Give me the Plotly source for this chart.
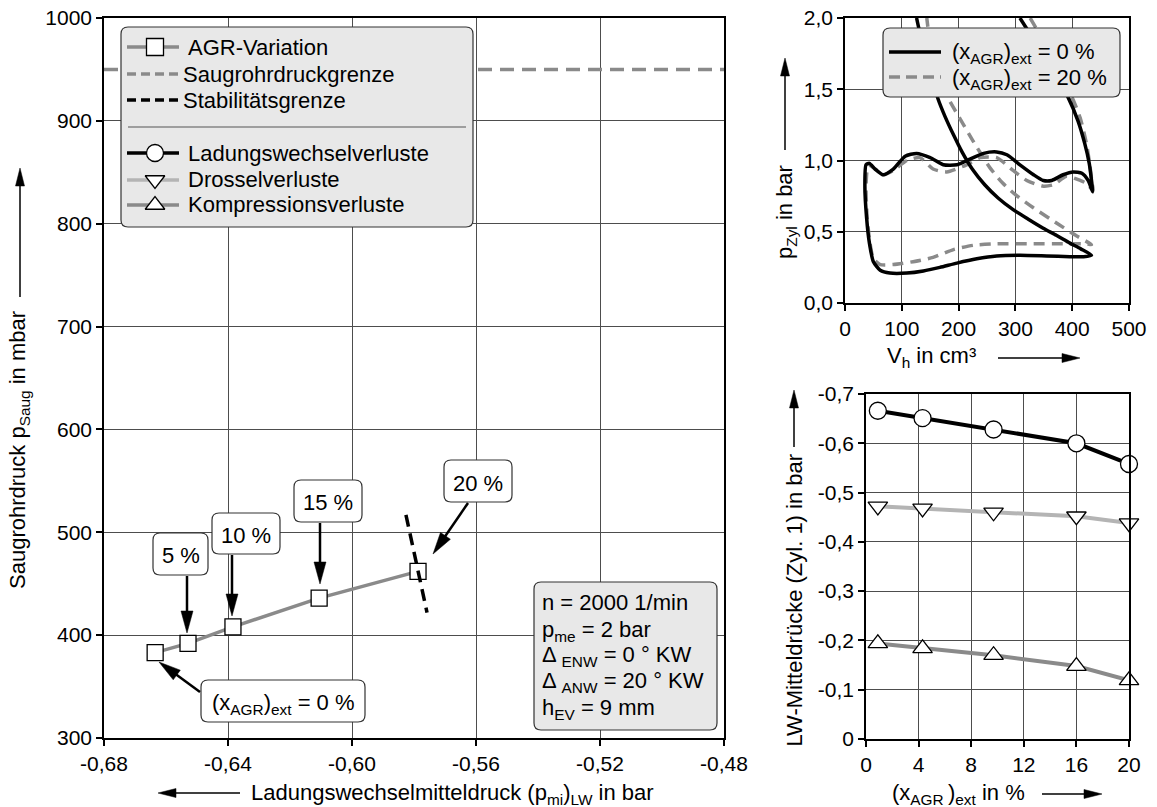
import math
import plotly.graph_objects as go

FONT = "Liberation Sans, Arial, Helvetica, sans-serif"
W, H = 1157, 807

# ---------------- data ----------------
# main chart: EGR variation
agr_rate = [0, 5, 10, 15, 20]                      # (x_AGR)ext in %
agr_pmi = [-0.6635, -0.6529, -0.6384, -0.6106, -0.5787]   # (p_mi)_LW in bar
agr_psaug = [383, 392, 408, 436, 462]              # p_Saug in mbar
saug_limit = 950                                   # intake pressure limit, mbar
stab_pmi = [-0.5826, -0.5758]                      # stability limit
stab_psaug = [517, 422]

main_xticks = [-0.68, -0.64, -0.60, -0.56, -0.52, -0.48]
main_xlabels = ["-0,68", "-0,64", "-0,60", "-0,56", "-0,52", "-0,48"]
main_yticks = [300, 400, 500, 600, 700, 800, 900, 1000]
main_ylabels = ["300", "400", "500", "600", "700", "800", "900", "1000"]

# p-V diagram, (x_AGR)ext = 0 %
pv0_v = [308, 340, 368, 392, 410, 422, 430, 434, 436,
         428, 417, 402, 384, 364, 349, 332, 308, 285, 267, 244, 220, 197, 173,
         150, 126, 106, 85, 67, 53, 43, 37,
         35, 38, 43, 50, 62, 79, 109, 138, 167, 197, 232, 267, 308, 355, 396,
         420, 434,
         415, 396, 372, 349, 322, 296, 270, 246, 224, 206, 191, 176, 164, 147,
         136, 126]
pv0_p = [2.0, 1.8, 1.62, 1.45, 1.28, 1.12, 0.98, 0.86, 0.78,
         0.86, 0.91, 0.92, 0.90, 0.86, 0.86, 0.90, 0.97, 1.04, 1.06, 1.05, 1.01,
         0.97, 0.97, 1.02, 1.05, 1.03, 0.94, 0.90, 0.94, 0.98, 0.97,
         0.82, 0.60, 0.42, 0.29, 0.23, 0.21, 0.21, 0.225, 0.25, 0.28, 0.31,
         0.33, 0.335, 0.33, 0.325, 0.325, 0.335,
         0.38, 0.42, 0.475, 0.525, 0.59, 0.655, 0.735, 0.83, 0.94, 1.06, 1.18, 1.31,
         1.43, 1.66, 1.82, 2.0]

# p-V diagram, (x_AGR)ext = 20 %
pv20_v = [326, 355, 378, 398, 414, 425, 431, 435, 437,
          425, 414, 390, 367, 349, 320, 296, 267, 238, 214, 179, 155, 132, 109,
          85, 67, 53, 41,
          37, 39, 44, 50, 62, 85, 120, 155, 191, 226, 267, 326, 384, 425, 434,
          408, 373, 331, 300, 278, 255, 225, 200, 180, 160, 150, 144]
pv20_p = [2.0, 1.8, 1.62, 1.46, 1.30, 1.12, 0.97, 0.84, 0.79,
          0.84, 0.86, 0.89, 0.83, 0.82, 0.86, 0.93, 1.02, 1.02, 0.97, 0.92, 0.94,
          1.02, 1.00, 0.93, 0.90, 0.94, 0.97,
          0.82, 0.60, 0.42, 0.31, 0.27, 0.27, 0.29, 0.32, 0.375, 0.405, 0.415,
          0.415, 0.415, 0.415, 0.41,
          0.47, 0.56, 0.67, 0.76, 0.84, 0.95, 1.14, 1.31, 1.45, 1.66, 1.82, 2.0]

pv_xticks = [0, 100, 200, 300, 400, 500]
pv_xlabels = ["0", "100", "200", "300", "400", "500"]
pv_yticks = [0, 0.5, 1.0, 1.5, 2.0]
pv_ylabels = ["0,0", "0,5", "1,0", "1,5", "2,0"]

# gas exchange mean pressures (cylinder 1)
egr_pct = [0.9, 4.3, 9.7, 16.0, 20.0]
lw_total = [-0.666, -0.651, -0.628, -0.600, -0.558]
lw_throttle = [-0.472, -0.468, -0.460, -0.452, -0.438]
lw_compression = [-0.194, -0.184, -0.170, -0.148, -0.119]

mp_xticks = [0, 4, 8, 12, 16, 20]
mp_xlabels = ["0", "4", "8", "12", "16", "20"]
mp_yticks = [0, -0.1, -0.2, -0.3, -0.4, -0.5, -0.6, -0.7]
mp_ylabels = ["0", "-0,1", "-0,2", "-0,3", "-0,4", "-0,5", "-0,6", "-0,7"]

# ---------------- styles ----------------
GRAY = "#8a8a8a"
LIGHT = "#b4b4b4"
BOXFILL = "#e8e8e8"
TXT = 22
TICK = 21


def dom_x(p0, p1):
    return [p0 / W, p1 / W]


def dom_y(top, bottom):
    return [1 - bottom / H, 1 - top / H]


def axis(**kw):
    base = dict(showline=True, linecolor="black", linewidth=1.5, mirror=True,
                ticks="outside", ticklen=6, tickwidth=1.5, tickcolor="black",
                showgrid=True, gridcolor="#4d4d4d", gridwidth=1, zeroline=False,
                tickfont=dict(size=TICK, family=FONT, color="black"),
                fixedrange=True, tickmode="array", automargin=False)
    base.update(kw)
    return base


fig = go.Figure()

# ---- main chart (x / y) ----
fig.add_trace(go.Scatter(x=[main_xticks[0], main_xticks[-1]], y=[saug_limit, saug_limit],
                         mode="lines", line=dict(color=GRAY, width=3.5, dash="14px,8px"),
                         xaxis="x", yaxis="y"))
fig.add_trace(go.Scatter(x=agr_pmi, y=agr_psaug, mode="lines+markers",
                         line=dict(color=GRAY, width=3.5),
                         marker=dict(symbol="square", size=16, color="white",
                                     line=dict(color="black", width=1.3)),
                         cliponaxis=False, xaxis="x", yaxis="y"))
fig.add_trace(go.Scatter(x=stab_pmi, y=stab_psaug, mode="lines",
                         line=dict(color="black", width=3.5, dash="12px,7px"),
                         xaxis="x", yaxis="y"))

# ---- p-V diagram (x2 / y2) ----
fig.add_trace(go.Scatter(x=pv20_v, y=pv20_p, mode="lines",
                         line=dict(color=GRAY, width=3.5, dash="11px,7px", shape="spline", smoothing=0.6),
                         xaxis="x2", yaxis="y2"))
fig.add_trace(go.Scatter(x=pv0_v, y=pv0_p, mode="lines",
                         line=dict(color="black", width=3.5, shape="spline", smoothing=0.6),
                         xaxis="x2", yaxis="y2"))

# ---- mean pressures (x3 / y3) ----
for vals, col, sym in [(lw_total, "black", "circle"),
                       (lw_throttle, LIGHT, "triangle-down"),
                       (lw_compression, GRAY, "triangle-up")]:
    fig.add_trace(go.Scatter(x=egr_pct, y=vals, mode="lines+markers",
                             line=dict(color=col, width=4),
                             marker=dict(symbol=sym, size=17, color="white",
                                         line=dict(color="black", width=1.3)),
                             cliponaxis=False, xaxis="x3", yaxis="y3"))

# ---- legend glyphs on a pixel-coordinate overlay (x4 / y4) ----
leg_rows = [  # (y, colour, dash, marker)
    (47, GRAY, "solid", "square"),
    (74, GRAY, "9px,5px", None),
    (100, "black", "9px,5px", None),
    (153, "black", "solid", "circle"),
    (180, LIGHT, "solid", "triangle-down"),
    (205, GRAY, "solid", "triangle-up"),
]
for yy, col, dash, sym in leg_rows:
    fig.add_trace(go.Scatter(x=[127, 179], y=[yy, yy], mode="lines",
                             line=dict(color=col, width=3.5, dash=dash),
                             xaxis="x4", yaxis="y4"))
    if sym:
        fig.add_trace(go.Scatter(x=[155], y=[yy], mode="markers",
                                 marker=dict(symbol=sym, size=17, color="white",
                                             line=dict(color="black", width=1.3)),
                                 xaxis="x4", yaxis="y4"))
fig.add_trace(go.Scatter(x=[889, 941], y=[52, 52], mode="lines",
                         line=dict(color="black", width=3.5), xaxis="x4", yaxis="y4"))
fig.add_trace(go.Scatter(x=[889, 941], y=[77, 77], mode="lines",
                         line=dict(color=GRAY, width=3.5, dash="11px,6px"), xaxis="x4", yaxis="y4"))

shapes = []
annotations = []


def rbox(x0, y0, x1, y1, fill, r=7):
    path = (f"M{x0+r},{y0} L{x1-r},{y0} Q{x1},{y0} {x1},{y0+r} L{x1},{y1-r} "
            f"Q{x1},{y1} {x1-r},{y1} L{x0+r},{y1} Q{x0},{y1} {x0},{y1-r} "
            f"L{x0},{y0+r} Q{x0},{y0} {x0+r},{y0} Z")
    shapes.append(dict(type="path", path=path, xref="x4", yref="y4", layer="below",
                       fillcolor=fill, line=dict(color="#333333", width=1.2)))


def arrow(x0, y0, x1, y1, w=1.5, hl=18, hw=9):
    dx, dy = x1 - x0, y1 - y0
    L = math.hypot(dx, dy)
    ux, uy = dx / L, dy / L
    bx, by = x1 - ux * hl, y1 - uy * hl
    nx, ny = -uy, ux
    shapes.append(dict(type="line", x0=x0, y0=y0, x1=bx + ux * 2, y1=by + uy * 2,
                       xref="x4", yref="y4", layer="above",
                       line=dict(color="black", width=w)))
    path = (f"M{x1},{y1} L{bx + nx * hw / 2},{by + ny * hw / 2} "
            f"L{bx - nx * hw / 2},{by - ny * hw / 2} Z")
    shapes.append(dict(type="path", path=path, xref="x4", yref="y4", layer="above",
                       fillcolor="black", line=dict(color="black", width=0.5)))


def text(x, baseline, s, size=TXT, xanchor="left"):
    annotations.append(dict(x=x, y=baseline - 0.905 * size, text=s, xref="x4", yref="y4",
                            xanchor=xanchor, yanchor="top", showarrow=False,
                            borderpad=0, borderwidth=0,
                            font=dict(size=size, family=FONT, color="black")))


def vtext(x_left, y_mid, s, size=TXT):
    annotations.append(dict(x=x_left, y=y_mid, text=s, xref="x4", yref="y4",
                            xanchor="left", yanchor="middle", textangle=-90,
                            showarrow=False, borderpad=0, borderwidth=0,
                            font=dict(size=size, family=FONT, color="black")))


# main legend box
rbox(121, 27, 473, 227, BOXFILL)
shapes.append(dict(type="line", x0=128, x1=466, y0=127, y1=127, xref="x4", yref="y4",
                   layer="above", line=dict(color="#555555", width=1.2)))
text(188, 55, "AGR-Variation")
text(183, 82, "Saugrohrdruckgrenze")
text(183, 108, "Stabilitätsgrenze")
text(188, 161, "Ladungswechselverluste")
text(188, 187, "Drosselverluste")
text(188, 212, "Kompressionsverluste")

# operating point box
rbox(534, 582, 717, 730, BOXFILL)
text(542, 610, "n = 2000 1/min")
text(542, 637, "p<sub>me</sub> = 2 bar")
text(542, 662, "Δ <sub>ENW</sub> = 0 ° KW")
text(542, 688, "Δ <sub>ANW</sub> = 20 ° KW")
text(542, 715, "h<sub>EV</sub> = 9 mm")

# EGR rate callouts
rbox(153, 533, 208, 575, "white")
text(180.5, 563, "5 %", xanchor="center")
arrow(187, 576, 187, 633, w=2.5, hl=22, hw=12)

rbox(212, 513, 280, 554, "white")
text(246, 543, "10 %", xanchor="center")
arrow(232, 555, 232, 616, w=2.5, hl=22, hw=12)

rbox(294, 480, 362, 522, "white")
text(328, 510, "15 %", xanchor="center")
arrow(320, 523, 320, 584, w=2.5, hl=22, hw=12)

rbox(444, 460, 512, 502, "white")
text(478, 491, "20 %", xanchor="center")
arrow(468, 503, 433, 554, w=2.5, hl=22, hw=12)

rbox(201, 680, 365, 722, "white")
text(283, 710, "(x<sub>AGR</sub>)<sub>ext</sub> = 0 %", xanchor="center")
arrow(200, 692, 159, 662, w=2.5, hl=22, hw=12)

# p-V legend
rbox(883, 28, 1120, 97, BOXFILL)
text(952, 59, "(x<sub>AGR</sub>)<sub>ext</sub> = 0 %")
text(952, 85, "(x<sub>AGR</sub>)<sub>ext</sub> = 20 %")

# axis titles with direction arrows
text(251, 800, "Ladungswechselmitteldruck (p<sub>mi</sub>)<sub>LW</sub> in bar")
arrow(240, 793, 158, 793)
vtext(5, 450, "Saugrohrdruck p<sub>Saug</sub> in mbar")
arrow(20, 297, 20, 168)

text(887, 363, "V<sub>h</sub> in cm³")
arrow(998, 358, 1080, 358)
vtext(772, 212, "p<sub>Zyl</sub> in bar")
arrow(785, 150, 785, 58)

text(892, 800, "(x<sub>AGR </sub>)<sub>ext</sub> in %")
arrow(1042, 794, 1102, 794)
vtext(781, 600, "LW-Mitteldrücke (Zyl. 1) in bar")
arrow(794, 447, 794, 390)

fig.update_layout(
    template="none",
    width=W, height=H,
    margin=dict(l=0, r=0, t=0, b=0, pad=0, autoexpand=False),
    paper_bgcolor="white", plot_bgcolor="rgba(0,0,0,0)",
    showlegend=False,
    font=dict(family=FONT, size=TXT, color="black"),
    xaxis=axis(domain=dom_x(104, 724), range=[-0.68, -0.48], anchor="y",
               tickvals=main_xticks, ticktext=main_xlabels),
    yaxis=axis(domain=dom_y(18, 738), range=[300, 1000], anchor="x",
               tickvals=main_yticks, ticktext=main_ylabels),
    xaxis2=axis(domain=dom_x(845, 1129), range=[0, 500], anchor="y2",
                tickvals=pv_xticks, ticktext=pv_xlabels),
    yaxis2=axis(domain=dom_y(18, 303), range=[0, 2.0], anchor="x2",
                tickvals=pv_yticks, ticktext=pv_ylabels),
    xaxis3=axis(domain=dom_x(866, 1129), range=[0, 20], anchor="y3",
                tickvals=mp_xticks, ticktext=mp_xlabels),
    yaxis3=axis(domain=dom_y(394, 739), range=[0, -0.7], anchor="x3",
                tickvals=mp_yticks, ticktext=mp_ylabels),
    xaxis4=dict(domain=[0, 1], range=[0, W], visible=False, fixedrange=True,
                anchor="y4", automargin=False),
    yaxis4=dict(domain=[0, 1], range=[H, 0], visible=False, fixedrange=True,
                anchor="x4", automargin=False),
    shapes=shapes,
    annotations=annotations,
)

fig.write_html("out.html")
